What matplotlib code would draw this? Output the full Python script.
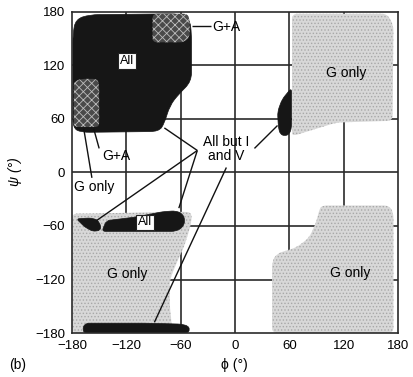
import numpy as np
import matplotlib
matplotlib.use("Agg")
import matplotlib.pyplot as plt
from matplotlib.path import Path
from matplotlib.patches import PathPatch

plt.rcParams['font.family'] = ['Liberation Sans', 'DejaVu Sans']
plt.rcParams['hatch.linewidth'] = 0.6

# ---- data (phi, psi) ----
ticks = [-180, -120, -60, 0, 60, 120, 180]

# grey "G only" regions
gonly_tr = [(63, 178), (168, 178), (175, 165), (174, 58), (112, 56), (64, 41), (63, 45)]
gonly_br = [(96, -37), (170, -37), (175, -45), (175, -180), (41, -180), (41, -100),
            (46, -91), (68, -84), (82, -73), (90, -55), (93, -42)]
gonly_bl = [(-180, -46), (-160, -46), (-56, -44), (-48, -45), (-48, -55), (-52, -70),
            (-57, -85), (-63, -98), (-72, -120), (-72, -150), (-70, -169), (-70, -180),
            (-180, -180)]

# black "All" regions
all_tl = [(-179, 50), (-179, 155), (-176, 172), (-160, 177), (-62, 178), (-50, 172),
          (-48, 156), (-48, 102), (-62, 88), (-72, 75), (-78, 55), (-84, 46), (-170, 45)]
all_bl = [(-147, -66), (-142, -54), (-110, -50), (-80, -44), (-66, -43), (-58, -46),
          (-55, -54), (-58, -62), (-66, -66)]

# black "All but I and V" regions
abiv_left = [(-175, -52), (-160, -51), (-152, -53), (-148, -60), (-149, -65),
             (-157, -66), (-166, -61)]
abiv_alpha_l = [(62.5, 95), (62.5, 50), (60, 43), (55, 41), (50, 43), (48, 50),
                (47, 68), (52, 82)]
abiv_bottom = [(-167, -180), (-168, -173), (-164, -169), (-100, -169), (-60, -170),
               (-52, -172), (-50, -176), (-52, -180)]

# "G+A" regions
ga_top = [(-91, 146), (-91, 178), (-52, 178), (-50, 170), (-50, 152), (-56, 146)]
ga_left = [(-178, 51), (-178, 102), (-170, 105), (-152, 105), (-150, 98), (-150, 51)]

# labels
label_text = ["G only", "G only", "G only", "All", "All", "G+A", "G+A",
              "G only", "All but I\nand V"]
label_pos = [(123, 112), (127, -113), (-119, -114), (-119, 125), (-99, -56),
             (-25, 163), (-131, 19), (-155, -16), (-9.5, 26.5)]

# leader lines (start, end)
leaders = [((-48, 164), (-27, 164)),
           ((-150, 27), (-156, 49)),
           ((-158, -6), (-167, 49)),
           ((-41.6, 24.7), (-78, 50)),
           ((-41.6, 24.7), (-153, -54)),
           ((-41.6, 24.7), (-62, -40)),
           ((21.5, 27), (47, 52.7)),
           ((-9.5, 5.6), (-89, -168))]


def rounded_path(verts, r):
    v = np.asarray(verts, float)
    n = len(v)
    pts, codes = [], []
    for i in range(n):
        p, c, q = v[i - 1], v[i], v[(i + 1) % n]
        d1, d2 = p - c, q - c
        l1, l2 = np.hypot(*d1), np.hypot(*d2)
        a = c + d1 * min(r / l1, 0.5)
        b = c + d2 * min(r / l2, 0.5)
        if i == 0:
            pts.append(a); codes.append(Path.MOVETO)
        else:
            pts.append(a); codes.append(Path.LINETO)
        pts += [c, b]; codes += [Path.CURVE3, Path.CURVE3]
    pts.append(pts[0]); codes.append(Path.CLOSEPOLY)
    return Path(pts, codes)


fig = plt.figure(figsize=(4.13, 3.77), dpi=100)
ax = fig.add_axes([0.1743, 0.1167, 0.7893, 0.8515])
ax.set_xlim(-180, 180)
ax.set_ylim(-180, 180)

for t in ticks[1:-1]:
    ax.axvline(t, color='#2a2a2a', lw=1.2, zorder=1)
    ax.axhline(t, color='#2a2a2a', lw=1.2, zorder=1)

grey_kw = dict(facecolor='#d8d8d8', edgecolor='#a8a8a8', hatch='.....', lw=0, zorder=2)
for poly in (gonly_tr, gonly_br, gonly_bl):
    ax.add_patch(PathPatch(rounded_path(poly, 6), **grey_kw))

black_kw = dict(facecolor='#161616', edgecolor='#161616', lw=0.5, zorder=3)
for poly, r in ((all_tl, 10), (all_bl, 4), (abiv_left, 3), (abiv_alpha_l, 5),
                (abiv_bottom, 3)):
    ax.add_patch(PathPatch(rounded_path(poly, r), **black_kw))

ga_kw = dict(facecolor='#4a4a4a', edgecolor='#bdbdbd', hatch='xxxx', lw=0, zorder=4)
for poly in (ga_top, ga_left):
    ax.add_patch(PathPatch(rounded_path(poly, 5), **ga_kw))

for (p0, p1) in leaders:
    ax.plot([p0[0], p1[0]], [p0[1], p1[1]], color='#111111', lw=1.0, zorder=5,
            solid_capstyle='butt')

for txt, (x, y) in zip(label_text, label_pos):
    if txt == "All":
        ax.text(x, y, txt, ha='center', va='center', fontsize=9, zorder=6,
                bbox=dict(boxstyle='square,pad=0.15', fc='white', ec='#222222', lw=0.8))
    elif txt == "G+A" and x > -60:
        ax.text(x, y, txt, ha='left', va='center', fontsize=10, zorder=6)
    else:
        ax.text(x, y, txt, ha='center', va='center', fontsize=10, zorder=6,
                linespacing=0.95)

ax.set_xticks(ticks)
ax.set_yticks(ticks)
ax.set_xticklabels([str(t).replace('-', '\u2212') for t in ticks], fontsize=9.5)
ax.set_yticklabels([str(t).replace('-', '\u2212') for t in ticks], fontsize=9.5)
ax.tick_params(length=0, pad=5)
for s in ax.spines.values():
    s.set_color('#2a2a2a')
    s.set_linewidth(1.2)
    s.set_zorder(7)

fig.text(15 / 413, 1 - 172 / 377, '\u03c8 (\u00b0)', rotation=90, ha='center',
         va='center', fontsize=10, style='italic')
fig.text(234 / 413, 1 - 365 / 377, '\u03d5 (\u00b0)', ha='center', va='center',
         fontsize=10)
fig.text(18 / 413, 1 - 365 / 377, '(b)', ha='center', va='center', fontsize=10)

fig.savefig('out.png', dpi=100)
